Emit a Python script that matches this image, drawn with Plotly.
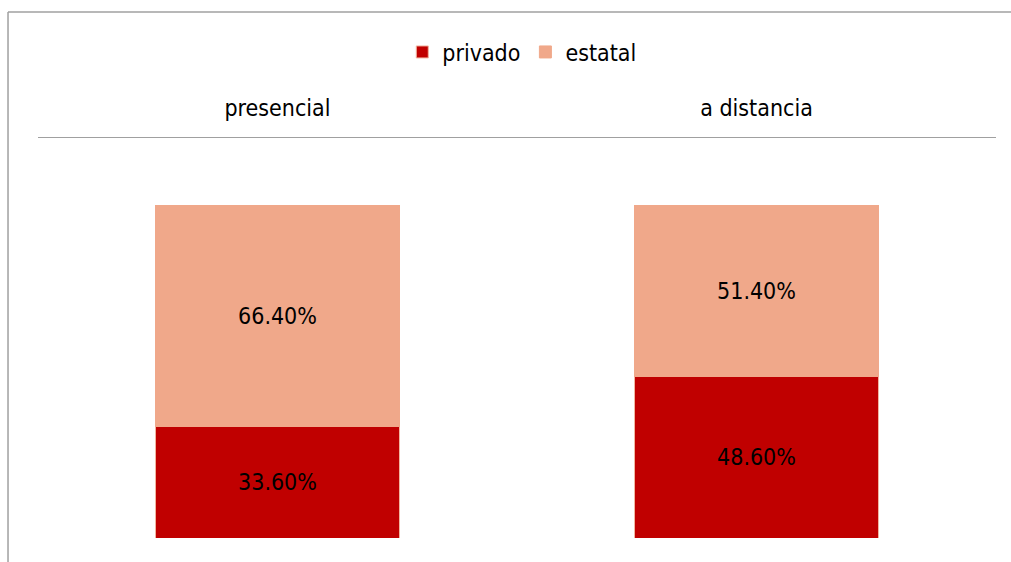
import plotly.graph_objects as go

categories = ["presencial", "a distancia"]
privado = [33.6, 48.6]
estatal = [66.4, 51.4]

FONT = "Liberation Sans Narrow, Arial Narrow, DejaVu Sans Condensed, sans-serif"

fig = go.Figure()
fig.add_trace(go.Bar(
    x=categories, y=privado, name="privado",
    marker=dict(color="#c00000", line=dict(color="#f2b5a0", width=1)),
    text=[f"{v:.2f}%" for v in privado], textposition="inside",
    insidetextanchor="middle", textfont=dict(color="black", size=23, family=FONT),
))
fig.add_trace(go.Bar(
    x=categories, y=estatal, name="estatal",
    marker=dict(color="#f0a88a", line=dict(color="#f0a88a", width=1)),
    text=[f"{v:.2f}%" for v in estatal], textposition="inside",
    insidetextanchor="middle", textfont=dict(color="black", size=23, family=FONT),
))

fig.update_layout(
    barmode="stack",
    bargap=0.489,
    width=1011, height=562,
    margin=dict(l=38, r=15, t=138, b=24),
    paper_bgcolor="white", plot_bgcolor="white",
    font=dict(family=FONT, size=23, color="black"),
    legend=dict(orientation="h", x=0.505, xanchor="center", y=1.215, yanchor="middle",
                font=dict(size=23, family=FONT), itemwidth=30, traceorder="normal"),
    xaxis=dict(side="top", showline=True, linecolor="#a0a0a0", linewidth=1,
               ticks="", showgrid=False, tickfont=dict(size=23, family=FONT),
               ticklabelstandoff=12),
    yaxis=dict(range=[0, 120.48], visible=False, showgrid=False),
    shapes=[
        dict(type="line", xref="paper", yref="paper", x0=-0.0313, x1=1.02, y0=1.315, y1=1.315,
             line=dict(color="#a0a0a0", width=1.5)),
        dict(type="line", xref="paper", yref="paper", x0=-0.0313, x1=-0.0313, y0=1.315, y1=-0.07,
             line=dict(color="#a0a0a0", width=1.5)),
    ],
)

fig.write_html("out.html")
